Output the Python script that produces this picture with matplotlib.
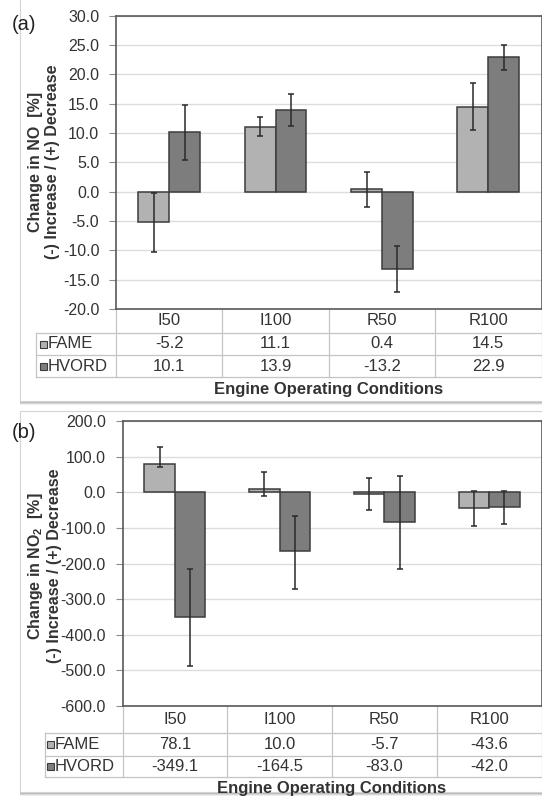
import numpy as np
import matplotlib.pyplot as plt
import matplotlib.transforms as mtransforms
from matplotlib.patches import Rectangle
from matplotlib.lines import Line2D

plt.rcParams['font.family'] = ['Liberation Sans', 'DejaVu Sans']
plt.rcParams['mathtext.fontset'] = 'custom'
plt.rcParams['mathtext.rm'] = 'Liberation Sans'
plt.rcParams['mathtext.bf'] = 'Liberation Sans:bold'

# data
conditions = ["I50", "I100", "R50", "R100"]
series = ["FAME", "HVORD"]

no_fame = [-5.2, 11.1, 0.4, 14.5]
no_hvord = [10.1, 13.9, -13.2, 22.9]
no_fame_err = [5.0, 1.65, 2.95, 4.05]
no_hvord_err = [4.7, 2.75, 3.9, 2.1]

no2_fame = [78.1, 10.0, -5.7, -43.6]
no2_hvord = [-349.1, -164.5, -83.0, -42.0]
no2_fame_lo = [7.7, 21.0, 45.0, 50.0]
no2_fame_hi = [48.7, 45.7, 45.0, 47.0]
no2_hvord_lo = [140.0, 106.0, 133.0, 48.0]
no2_hvord_hi = [134.0, 98.0, 128.0, 46.0]

W, H = 542, 799
fig = plt.figure(figsize=(W / 100, H / 100), dpi=100)
fig.patch.set_facecolor('white')

C_FAME = '#b2b2b2'
C_HVORD = '#7d7d7d'
EDGE = '#3c3c3c'
TXT = '#333333'
GRID = '#dcdcdc'
TLINE = '#c4c4c4'


def fx(x):
    return x / W


def fy(y):
    return 1 - y / H


def frame(y0, y1):
    # shadow + light border of the excel chart area
    for k, a in enumerate([0.10, 0.16, 0.24, 0.35]):
        fig.patches.append(Rectangle((fx(20), fy(y1 + 4 - k)), fx(530), (y1 - y0) / H,
                                     transform=fig.transFigure, facecolor='#606060',
                                     edgecolor='none', alpha=a, zorder=-3))
    fig.patches.append(Rectangle((fx(20), fy(y1)), fx(530), (y1 - y0) / H,
                                 transform=fig.transFigure, facecolor='white',
                                 edgecolor='#d4d4d4', lw=0.8, zorder=-2))


def panel(rect, fame, hvord, ferr, herr, ylim, step, ylabel, lab_y, tag, tag_y, tbl):
    l, t, r, b = rect
    ax = fig.add_axes([fx(l), fy(b), fx(r - l), (b - t) / H])
    ax.set_zorder(2)
    x = np.arange(len(conditions))
    w = 0.29
    ax.bar(x - w / 2, fame, w, color=C_FAME, edgecolor=EDGE, lw=1.1, zorder=2)
    ax.bar(x + w / 2, hvord, w, color=C_HVORD, edgecolor=EDGE, lw=1.1, zorder=2)
    ax.errorbar(x - w / 2, fame, yerr=ferr, fmt='none', ecolor='#2a2a2a', elinewidth=1.1,
                capsize=2, capthick=1.1, zorder=3)
    ax.errorbar(x + w / 2, hvord, yerr=herr, fmt='none', ecolor='#2a2a2a', elinewidth=1.1,
                capsize=2, capthick=1.1, zorder=3)
    ax.set_xlim(-0.5, len(conditions) - 0.5)
    ax.set_ylim(*ylim)
    ax.set_yticks(np.arange(ylim[0], ylim[1] + step / 2, step))
    ax.yaxis.set_major_formatter(plt.FormatStrFormatter('%.1f'))
    ax.grid(axis='y', color=GRID, lw=1.0, zorder=0)
    ax.set_axisbelow(True)
    ax.set_xticks([])
    ax.tick_params(axis='y', labelsize=11.5, colors=TXT, length=5, width=0.8, pad=7,
                   color='#8c8c8c')
    for s in ax.spines.values():
        s.set_color('#595959')
        s.set_linewidth(1.2)

    fig.text(fx(44), fy(lab_y), ylabel, rotation=90, ha='center', va='center',
             multialignment='center', fontsize=11.5, fontweight='bold', color=TXT,
             linespacing=1.1)
    fig.text(fx(12), fy(tag_y), tag, fontsize=14.5, color='#222222', va='center', zorder=5)

    # data table under the plot
    tl, hy, r1, r2, r3, sq, tx = tbl
    tr = mtransforms.blended_transform_factory(ax.transData, fig.transFigure)
    n = len(conditions)
    for k in range(n + 1):
        xk = k - 0.5
        fig.add_artist(Line2D([xk, xk], [fy(b), fy(r3)], transform=tr, color=TLINE, lw=0.9))
    for yy in (r1, r2, r3):
        fig.add_artist(Line2D([fx(tl), fx(W + 5)], [fy(yy), fy(yy)], transform=fig.transFigure,
                              color=TLINE, lw=0.9))
    fig.add_artist(Line2D([fx(tl), fx(tl)], [fy(r1), fy(r3)], transform=fig.transFigure,
                          color=TLINE, lw=0.9))
    for i, c in enumerate(conditions):
        ax.text(i, fy(hy), c, transform=tr, ha='center', va='center', fontsize=12, color=TXT)
    rows = [(series[0], fame, C_FAME, (r1 + r2) / 2), (series[1], hvord, C_HVORD, (r2 + r3) / 2)]
    for name, vals, col, yc in rows:
        fig.patches.append(Rectangle((fx(sq), fy(yc + 3.5)), fx(7), 7 / H,
                                     transform=fig.transFigure, facecolor=col,
                                     edgecolor=EDGE, lw=0.8, zorder=3))
        fig.text(fx(tx), fy(yc), name, ha='left', va='center', fontsize=12, color=TXT)
        for i, v in enumerate(vals):
            ax.text(i, fy(yc), '%.1f' % v, transform=tr, ha='center', va='center',
                    fontsize=12, color=TXT)
    fig.text(fx((l + r) / 2), fy(r3 + 12), 'Engine Operating Conditions', ha='center',
             va='center', fontsize=12, fontweight='bold', color=TXT)
    return ax


frame(-5, 401)
frame(411, 792)

panel((116, 15.7, 541.5, 309), no_fame, no_hvord, no_fame_err, no_hvord_err,
      (-20, 30), 5, 'Change in NO  [%]\n(-) Increase / (+) Decrease', 162, '(a)', 24,
      (36, 321, 333, 355, 377, 40, 48))

panel((122.5, 421, 541.5, 706), no2_fame, no2_hvord,
      [no2_fame_lo, no2_fame_hi], [no2_hvord_lo, no2_hvord_hi],
      (-600, 200), 100, 'Change in NO$_\\mathbf{2}$  [%]\n(-) Increase / (+) Decrease', 566,
      '(b)', 432, (45, 720, 733, 756, 777, 47, 55))

fig.savefig('out.png', dpi=100)
